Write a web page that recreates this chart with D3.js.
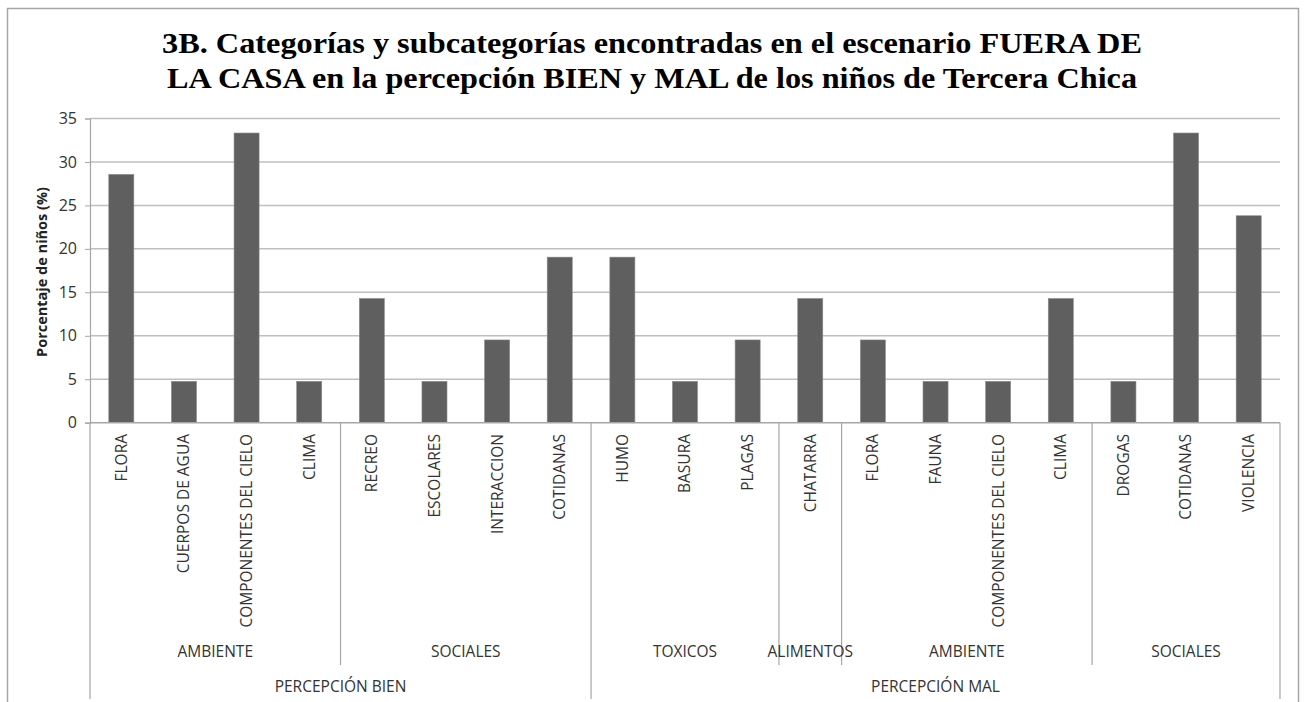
<!DOCTYPE html>
<html>
<head>
<meta charset="utf-8">
<script src="https://cdn.jsdelivr.net/npm/d3@7"></script>
<style>
  body { margin: 0; background: #fff; }
  svg { display: block; }
</style>
</head>
<body>
<script>
// datos (porcentaje de niños)
var subcategorias = ["FLORA", "CUERPOS DE AGUA", "COMPONENTES DEL CIELO", "CLIMA",
  "RECREO", "ESCOLARES", "INTERACCION", "COTIDANAS",
  "HUMO", "BASURA", "PLAGAS", "CHATARRA",
  "FLORA", "FAUNA", "COMPONENTES DEL CIELO", "CLIMA",
  "DROGAS", "COTIDANAS", "VIOLENCIA"];
var porcentajes = [28.57, 4.76, 33.33, 4.76, 14.29, 4.76, 9.52, 19.05,
  19.05, 4.76, 9.52, 14.29, 9.52, 4.76, 4.76, 14.29, 4.76, 33.33, 23.81];
var categorias = ["AMBIENTE", "SOCIALES", "TOXICOS", "ALIMENTOS", "AMBIENTE", "SOCIALES"];
var categoriasN = [4, 4, 3, 1, 4, 3];
var percepciones = ["PERCEPCIÓN BIEN", "PERCEPCIÓN MAL"];
var percepcionesN = [8, 11];
var yTicks = [0, 5, 10, 15, 20, 25, 30, 35];
var titulo = ["3B. Categorías y subcategorías encontradas en el escenario FUERA DE",
  "LA CASA en la percepción BIEN y MAL de los niños de Tercera Chica"];

var W = 1308, H = 702;
var svg = d3.select("body").append("svg").attr("width", W).attr("height", H);
var fuente = "'Open Sans', sans-serif";

// marco exterior
svg.append("rect").attr("x", 7.5).attr("y", 8.5).attr("width", 1291).attr("height", 700)
  .attr("fill", "none").attr("stroke", "#a6a6a6").attr("stroke-width", 1.5);

// titulo
svg.selectAll("text.titulo").data(titulo).enter().append("text")
  .attr("class", "titulo")
  .attr("x", 652).attr("y", function(d, i) { return 53 + i * 35; })
  .attr("text-anchor", "middle")
  .attr("textLength", function(d, i) { return i == 0 ? 980 : 970; })
  .attr("lengthAdjust", "spacingAndGlyphs")
  .style("font-family", "'Liberation Serif', 'Times New Roman', serif")
  .style("font-weight", "bold").style("font-size", "30px")
  .text(function(d) { return d; });

var x = d3.scaleBand().domain(d3.range(subcategorias.length))
  .range([90, 1280]).paddingInner(0.6).paddingOuter(0.3);
var y = d3.scaleLinear().domain([0, 35]).range([422.7, 118.5]);
var half = (x.step() - x.bandwidth()) / 2;
function borde(i) { return x(i) - half; }

// rejilla
svg.append("g").selectAll("line").data(yTicks.slice(1)).enter().append("line")
  .attr("x1", 90).attr("x2", 1280)
  .attr("y1", function(d) { return y(d); }).attr("y2", function(d) { return y(d); })
  .attr("stroke", "#bfbfbf").attr("stroke-width", 1.5);

// eje y
var yAxis = svg.append("g").attr("transform", "translate(90,0)")
  .call(d3.axisLeft(y).tickValues(yTicks).tickSize(5).tickPadding(8));
yAxis.select(".domain").attr("stroke", "#a6a6a6").attr("stroke-width", 1.2);
yAxis.selectAll(".tick line").attr("stroke", "#a6a6a6");
yAxis.selectAll("text").style("font-family", fuente)
  .style("font-size", "16px").attr("fill", "#333");

svg.append("text")
  .attr("transform", "translate(42,272) rotate(-90)")
  .attr("text-anchor", "middle").attr("dy", "0.35em")
  .style("font-family", fuente).style("font-weight", "bold")
  .style("font-size", "14.5px").attr("fill", "#222")
  .text("Porcentaje de niños (%)");

// barras
svg.append("g").selectAll("rect").data(porcentajes).enter().append("rect")
  .attr("x", function(d, i) { return x(i); })
  .attr("width", x.bandwidth())
  .attr("y", function(d) { return y(d); })
  .attr("height", function(d) { return y(0) - y(d); })
  .attr("fill", "#5f5f5f").attr("stroke", "#8a8a8a").attr("stroke-width", 0.6);

// linea base
svg.append("line").attr("x1", 90).attr("x2", 1280).attr("y1", y(0)).attr("y2", y(0))
  .attr("stroke", "#a6a6a6").attr("stroke-width", 1.5);

// etiquetas subcategorias
svg.append("g").selectAll("text").data(subcategorias).enter().append("text")
  .attr("transform", function(d, i) {
    return "translate(" + (x(i) + x.bandwidth() / 2) + ",434) rotate(-90)";
  })
  .attr("text-anchor", "end").attr("dy", "0.35em")
  .style("font-family", fuente).style("font-size", "15.5px")
  .attr("fill", "#333")
  .text(function(d) { return d; });

// grupos de categorias
var ini = 0, grupos = [];
categorias.forEach(function(c, k) {
  grupos.push({ nombre: c, a: ini, b: ini + categoriasN[k] });
  ini += categoriasN[k];
});
ini = 0;
var grupos2 = [];
percepciones.forEach(function(c, k) {
  grupos2.push({ nombre: c, a: ini, b: ini + percepcionesN[k] });
  ini += percepcionesN[k];
});

var n = subcategorias.length;
function bx(i) { return i >= n ? borde(n - 1) + x.step() : borde(i); }

// divisores
var corte = grupos.map(function(g) { return g.a; }).filter(function(a) {
  return grupos2.every(function(g) { return g.a != a; });
});
svg.append("g").selectAll("line").data(corte).enter().append("line")
  .attr("x1", function(d) { return bx(d); }).attr("x2", function(d) { return bx(d); })
  .attr("y1", y(0)).attr("y2", 665)
  .attr("stroke", "#a6a6a6").attr("stroke-width", 1.2);
var corte2 = grupos2.map(function(g) { return g.a; }).concat([n]);
svg.append("g").selectAll("line").data(corte2).enter().append("line")
  .attr("x1", function(d) { return bx(d); }).attr("x2", function(d) { return bx(d); })
  .attr("y1", y(0)).attr("y2", 699)
  .attr("stroke", "#a6a6a6").attr("stroke-width", 1.2);

svg.append("g").selectAll("text").data(grupos).enter().append("text")
  .attr("x", function(d) { return (bx(d.a) + bx(d.b)) / 2; })
  .attr("y", 652).attr("dy", "0.35em").attr("text-anchor", "middle")
  .style("font-family", fuente).style("font-size", "15.5px")
  .attr("fill", "#333")
  .text(function(d) { return d.nombre; });

svg.append("g").selectAll("text").data(grupos2).enter().append("text")
  .attr("x", function(d) { return (bx(d.a) + bx(d.b)) / 2; })
  .attr("y", 687).attr("dy", "0.35em").attr("text-anchor", "middle")
  .style("font-family", fuente).style("font-size", "15.5px")
  .attr("fill", "#333")
  .text(function(d) { return d.nombre; });
</script>
</body>
</html>
